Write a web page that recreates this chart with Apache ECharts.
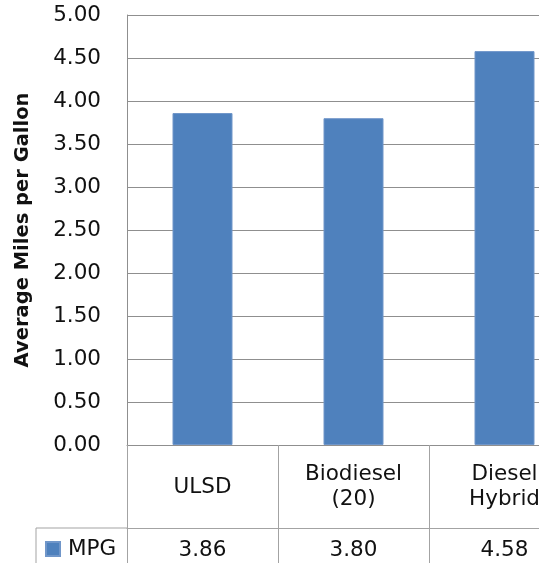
<!DOCTYPE html>
<html>
<head>
<meta charset="utf-8">
<script src="https://cdn.jsdelivr.net/npm/echarts@6/dist/echarts.min.js"></script>
<style>
  html, body { margin: 0; padding: 0; background: #fff; width: 539px; height: 563px; overflow: hidden; position: relative; }
  /* the plot runs on past the right edge of the page */
  #chart { position: absolute; left: 0; top: 0; width: 580px; height: 563px; }
</style>
</head>
<body>
<div id="chart"></div>
<script>
// Fuel types and their average fuel economy
const categories = ['ULSD', 'Biodiesel\n(20)', 'Diesel\nHybrid'];
const mpgValues = [3.86, 3.80, 4.58];
const seriesName = 'MPG';
const yTicks = { min: 0, max: 5, interval: 0.5 };

// Layout of plot area and the data table beneath it
const W = 580, H = 563;
const GRID_LEFT = 127, GRID_TOP = 15, GRID_RIGHT = 0, GRID_BOTTOM = 118;
const ROW1_H = 83;          // category-name row
const TABLE_LEFT = 36;      // left edge of the legend cell
const FONT = 'DejaVu Sans';
const FS = 21.5;
const TEXT = '#111';
const GRID_LINE = '#8f8f8f';
const TABLE_LINE = '#a3a3a3';

const chart = echarts.init(document.getElementById('chart'), null, { renderer: 'canvas', width: W, height: H });
const baseY = H - GRID_BOTTOM;
const rowY = baseY + ROW1_H;

chart.setOption({
  animation: false,
  backgroundColor: '#fff',
  grid: {
    left: GRID_LEFT, right: GRID_RIGHT, top: GRID_TOP, bottom: GRID_BOTTOM,
    containLabel: false, outerBoundsMode: 'none'
  },
  legend: {
    data: [seriesName],
    left: 45, top: rowY + 10, padding: 0,
    icon: 'rect', itemWidth: 14, itemHeight: 14,
    textStyle: { fontFamily: FONT, fontSize: FS, color: TEXT, lineHeight: 22, padding: [0, 0, 0, 3] }
  },
  xAxis: [
    {
      type: 'category',
      data: categories,
      position: 'bottom',
      axisLine: { show: true, lineStyle: { color: GRID_LINE, width: 1 } },
      axisTick: { show: true, length: ROW1_H, lineStyle: { color: TABLE_LINE, width: 1 } },
      axisLabel: {
        fontFamily: FONT, fontSize: FS, color: TEXT, lineHeight: 25,
        verticalAlign: 'middle', margin: 42, interval: 0, hideOverlap: false
      },
      splitLine: { show: false }
    },
    {
      // value row of the data table
      type: 'category',
      data: mpgValues.map(v => v.toFixed(2)),
      position: 'bottom',
      offset: ROW1_H,
      axisLine: { show: true, lineStyle: { color: TABLE_LINE, width: 1 } },
      axisTick: { show: true, length: 45, lineStyle: { color: TABLE_LINE, width: 1 } },
      axisLabel: {
        fontFamily: FONT, fontSize: FS, color: TEXT,
        verticalAlign: 'middle', margin: 22, interval: 0, hideOverlap: false
      },
      splitLine: { show: false }
    }
  ],
  yAxis: {
    type: 'value',
    min: yTicks.min, max: yTicks.max, interval: yTicks.interval,
    name: 'Average Miles per Gallon',
    nameLocation: 'middle',
    nameGap: 94,
    nameRotate: 90,
    nameTextStyle: { fontFamily: FONT, fontSize: 19.5, fontWeight: 'bold', color: TEXT },
    axisLine: { show: true, lineStyle: { color: GRID_LINE, width: 1 } },
    axisTick: { show: false },
    axisLabel: {
      fontFamily: FONT, fontSize: FS, color: TEXT, margin: 26,
      formatter: v => v.toFixed(2)
    },
    splitLine: { show: true, lineStyle: { color: GRID_LINE, width: 1 } }
  },
  series: [{
    name: seriesName,
    type: 'bar',
    xAxisIndex: 0,
    data: mpgValues,
    barWidth: 60,
    itemStyle: { color: '#4F81BD', borderColor: '#7096c9', borderWidth: 1 }
  }],
  graphic: [
    // table frame left of the plot: row divider and the legend cell's left edge
    { type: 'line', silent: true, shape: { x1: TABLE_LEFT, y1: rowY, x2: GRID_LEFT, y2: rowY },
      style: { stroke: TABLE_LINE, lineWidth: 1 } },
    { type: 'line', silent: true, shape: { x1: TABLE_LEFT, y1: rowY, x2: TABLE_LEFT, y2: H + 5 },
      style: { stroke: TABLE_LINE, lineWidth: 1 } }
  ]
});
</script>
</body>
</html>
